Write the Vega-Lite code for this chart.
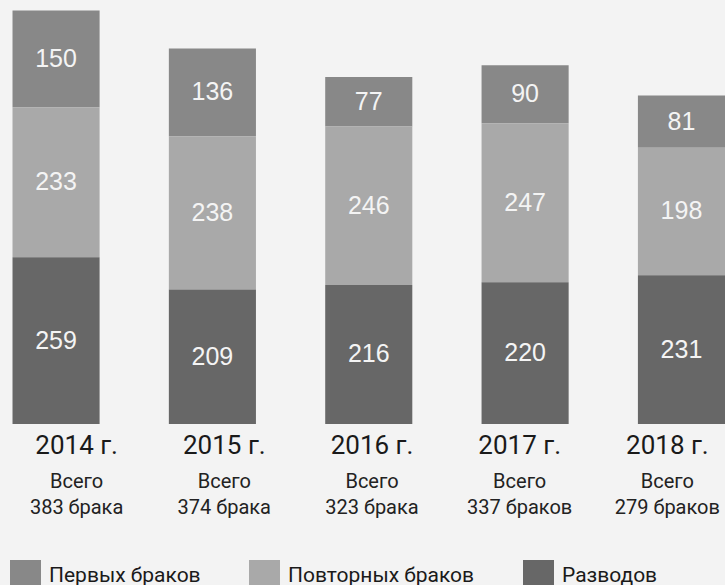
{
  "$schema": "https://vega.github.io/schema/vega-lite/v6.json",
  "width": 725,
  "height": 424,
  "autosize": "none",
  "padding": {"left": 0, "top": 0, "right": 0, "bottom": 161},
  "background": "#f3f3f3",
  "config": {"view": {"stroke": null}, "font": "Roboto"},
  "datasets": {
    "bars": [
      {"year": "2014", "type": "Первых браков", "value": 150},
      {"year": "2014", "type": "Повторных браков", "value": 233},
      {"year": "2014", "type": "Разводов", "value": 259},
      {"year": "2015", "type": "Первых браков", "value": 136},
      {"year": "2015", "type": "Повторных браков", "value": 238},
      {"year": "2015", "type": "Разводов", "value": 209},
      {"year": "2016", "type": "Первых браков", "value": 77},
      {"year": "2016", "type": "Повторных браков", "value": 246},
      {"year": "2016", "type": "Разводов", "value": 216},
      {"year": "2017", "type": "Первых браков", "value": 90},
      {"year": "2017", "type": "Повторных браков", "value": 247},
      {"year": "2017", "type": "Разводов", "value": 220},
      {"year": "2018", "type": "Первых браков", "value": 81},
      {"year": "2018", "type": "Повторных браков", "value": 198},
      {"year": "2018", "type": "Разводов", "value": 231}
    ],
    "labels": [
      {"yearLabel": "2014 г.", "total": "383 брака"},
      {"yearLabel": "2015 г.", "total": "374 брака"},
      {"yearLabel": "2016 г.", "total": "323 брака"},
      {"yearLabel": "2017 г.", "total": "337 браков"},
      {"yearLabel": "2018 г.", "total": "279 браков"}
    ]
  },
  "layer": [
    {
      "data": {"name": "bars"},
      "mark": {"type": "bar", "strokeWidth": 0},
      "encoding": {
        "x": {"field": "year", "type": "nominal", "scale": {"type": "band", "paddingInner": 0.443, "paddingOuter": 0.04, "align": 1}, "axis": null},
        "y": {"field": "value", "type": "quantitative", "stack": "zero", "scale": {"domain": [0, 658.4]}, "axis": null},
        "color": {
          "field": "type", "type": "nominal",
          "scale": {"domain": ["Первых браков", "Повторных браков", "Разводов"], "range": ["#888888", "#a9a9a9", "#676767"]},
          "legend": {
            "orient": "none", "legendX": 10, "legendY": 560, "direction": "horizontal", "title": null,
            "symbolType": "square", "symbolSize": 961, "symbolStrokeWidth": 0, "symbolOpacity": 1,
            "labelFontSize": 21, "labelFont": "Roboto", "labelColor": "#1a1a1a", "labelOffset": 8,
            "columnPadding": 48, "padding": 0, "labelLimit": 300
          }
        },
        "order": {"field": "type", "sort": "descending"}
      }
    },
    {
      "data": {"name": "bars"},
      "mark": {"type": "text", "font": "Liberation Sans", "fontSize": 25, "color": "#f4f4f4", "baseline": "middle", "align": "center"},
      "encoding": {
        "x": {"field": "year", "type": "nominal", "scale": {"type": "band", "paddingInner": 0.443, "paddingOuter": 0.04, "align": 1}, "axis": null},
        "y": {"field": "value", "type": "quantitative", "stack": "zero", "bandPosition": 0.5, "scale": {"domain": [0, 658.4]}, "axis": null},
        "detail": {"field": "type", "type": "nominal"},
        "order": {"field": "type", "sort": "descending"},
        "text": {"field": "value", "type": "quantitative"}
      }
    },
    {
      "data": {"name": "labels"},
      "mark": {"type": "point", "opacity": 0},
      "encoding": {
        "x": {
          "field": "yearLabel", "type": "nominal", "sort": null,
          "scale": {"type": "point", "padding": 0.4545, "align": 0.567},
          "axis": {"orient": "bottom", "domain": false, "ticks": false, "grid": false, "title": null,
                   "labelFont": "Roboto", "labelFontSize": 26, "labelColor": "#1a1a1a",
                   "labelBaseline": "alphabetic", "labelPadding": 29, "labelAngle": 0}
        }
      }
    },
    {
      "data": {"name": "labels"},
      "mark": {"type": "point", "opacity": 0},
      "encoding": {
        "x": {
          "field": "total", "type": "nominal", "sort": null,
          "scale": {"type": "point", "padding": 0.4545, "align": 0.567},
          "axis": {"orient": "bottom", "domain": false, "ticks": false, "grid": false, "title": null,
                   "labelFont": "Roboto", "labelFontSize": 20, "labelColor": "#222222",
                   "labelExpr": "['Всего', datum.value]", "labelLineHeight": 26,
                   "labelBaseline": "alphabetic", "labelPadding": 63, "labelAngle": 0}
        }
      }
    }
  ],
  "resolve": {"scale": {"x": "independent"}, "axis": {"x": "independent"}}
}
